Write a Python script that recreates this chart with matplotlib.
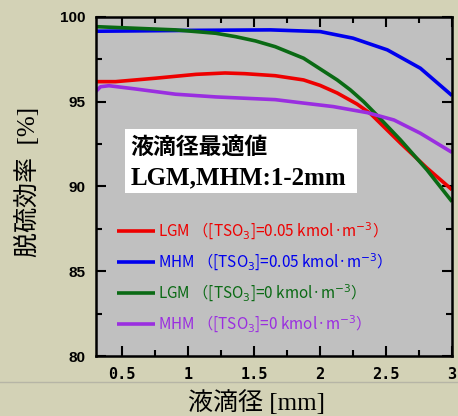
import matplotlib
matplotlib.use('Agg')
import matplotlib.pyplot as plt
from matplotlib.lines import Line2D
from matplotlib.ticker import MultipleLocator

# droplet diameter [mm] and desulfurization efficiency [%]
x_red = [0.30, 0.45, 0.75, 1.06, 1.28, 1.43, 1.66, 1.875, 2.00, 2.13, 2.28, 2.38, 2.61, 2.81, 3.00]
y_red = [96.17, 96.17, 96.37, 96.6, 96.68, 96.64, 96.52, 96.27, 95.95, 95.5, 94.85, 94.3, 92.54, 91.08, 89.8]

x_blue = [0.30, 0.60, 1.00, 1.625, 2.00, 2.25, 2.51, 2.76, 3.00]
y_blue = [99.14, 99.16, 99.19, 99.22, 99.12, 98.73, 98.04, 96.96, 95.35]

x_green = [0.30, 0.905, 1.21, 1.36, 1.51, 1.66, 1.875, 2.13, 2.23, 2.33, 2.43, 2.61, 2.81, 3.00]
y_green = [99.41, 99.22, 99.02, 98.82, 98.57, 98.23, 97.55, 96.27, 95.68, 94.99, 94.2, 92.73, 90.97, 89.1]

x_purple = [0.30, 0.336, 0.40, 0.60, 0.905, 1.21, 1.66, 1.85, 2.10, 2.36, 2.56, 2.76, 3.00]
y_purple = [95.58, 95.87, 95.93, 95.74, 95.43, 95.27, 95.11, 94.93, 94.7, 94.34, 93.91, 93.13, 92.0]

labels = ['LGM （[TSO$_3$]=0.05 kmol·m$^{-3}$）',
          'MHM （[TSO$_3$]=0.05 kmol·m$^{-3}$）',
          'LGM （[TSO$_3$]=0 kmol·m$^{-3}$）',
          'MHM （[TSO$_3$]=0 kmol·m$^{-3}$）']
colors = ['#ee0000', '#0000ee', '#0a6a14', '#9a2ee0']

bg = '#d3d2b6'
fig = plt.figure(figsize=(4.58, 4.16), dpi=100, facecolor=bg)
ax = fig.add_axes([0.209, 0.144, 0.778, 0.816])
ax.set_facecolor('#c0c0c0')

series = [(x_red, y_red), (x_blue, y_blue), (x_green, y_green), (x_purple, y_purple)]
for (xs, ys), c, lab in zip(series, colors, labels):
    ax.plot(xs, ys, color=c, lw=2.6, label=lab, solid_capstyle='butt',
            solid_joinstyle='round')

ax.set_xlim(0.3, 3)
ax.set_ylim(80, 100)
ax.xaxis.set_major_locator(MultipleLocator(0.5))
ax.xaxis.set_minor_locator(MultipleLocator(0.25))
ax.yaxis.set_major_locator(MultipleLocator(5))
ax.yaxis.set_minor_locator(MultipleLocator(2.5))
ax.tick_params(which='both', direction='in', top=True, right=True, width=1.5)
ax.tick_params(which='major', length=7)
ax.tick_params(which='minor', length=4)
ax.tick_params(axis='x', pad=8)
ax.tick_params(axis='y', pad=7)
for s in ax.spines.values():
    s.set_linewidth(1.8)

ax.set_xticks([0.5, 1, 1.5, 2, 2.5, 3])
ax.set_xticklabels(['0.5', '1', '1.5', '2', '2.5', '3'],
                   family='DejaVu Sans Mono', fontweight='bold', fontsize=11)
ax.set_yticks([80, 85, 90, 95, 100])
ax.set_yticklabels(['80', '85', '90', '95', '100'],
                   family='Liberation Sans', fontweight='bold', fontsize=11)

lab_font = ['Liberation Serif', 'Noto Sans CJK JP']
fig.text(257 / 458, 1 - 403 / 416, '液滴径 [mm]', family=lab_font,
         fontsize=18, ha='center', va='center')
fig.text(28 / 458, 1 - 182 / 416, '脱硫効率  [%]', family=lab_font,
         fontsize=18, ha='center', va='center', rotation=90)

# annotation box
ax.add_patch(plt.Rectangle((0.525, 89.59), 2.28 - 0.525, 93.36 - 89.59,
                           fc='white', ec='none', zorder=4))
ax.text(0.563, 92.32, '液滴径最適値', family='Noto Sans CJK JP', fontweight='bold',
        fontsize=16.5, va='center', zorder=5)
ax.text(0.563, 90.5, 'LGM,MHM:1-2mm', family='Liberation Serif', fontweight='bold',
        fontsize=18, va='center', zorder=5)

leg = ax.legend(loc='upper left', bbox_to_anchor=(0.02, 0.44), frameon=False,
                handlelength=2.5, handletextpad=0.2, labelspacing=0.65,
                prop={'family': ['Noto Sans CJK JP', 'DejaVu Sans'], 'size': 11})
for t, c in zip(leg.get_texts(), colors):
    t.set_color(c)

fig.add_artist(Line2D([0, 1], [1 - 382 / 416, 1 - 382 / 416], color='#b6b5a6', lw=1))

fig.savefig('out.png', dpi=100, facecolor=bg)
